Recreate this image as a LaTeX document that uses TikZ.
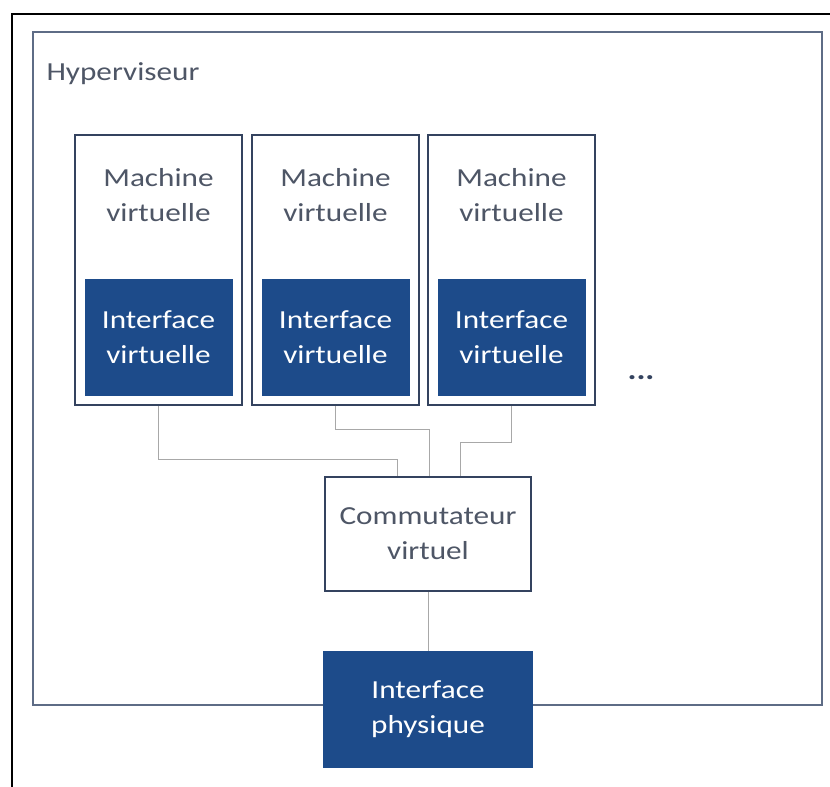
\documentclass[tikz,border=0pt]{standalone}
\usepackage{fontspec}
\setmainfont[FakeStretch=1.2]{Carlito}
\definecolor{fillblue}{HTML}{1D4B8A}
\definecolor{boxline}{HTML}{34435F}
\definecolor{hypline}{HTML}{5E6C86}
\definecolor{txtgray}{HTML}{4E5666}
\definecolor{wireg}{HTML}{A8A8A8}
\begin{document}
\begin{tikzpicture}[x=1pt,y=-1pt,
  vmbox/.style={draw=boxline,line width=2pt,fill=white,minimum width=167pt,minimum height=270pt,inner sep=0pt},
  ifbox/.style={fill=fillblue,minimum width=148pt,minimum height=117pt,inner sep=0pt,text=white,align=center,font=\fontsize{26}{35}\selectfont},
  lbl/.style={text=txtgray,align=center,font=\fontsize{26}{35}\selectfont},
  swbox/.style={draw=boxline,line width=2pt,fill=white,minimum width=206pt,minimum height=114pt,inner sep=0pt,text=txtgray,align=center,font=\fontsize{26}{35}\selectfont},
  wire/.style={draw=wireg,line width=1pt}]
\useasboundingbox (0,0) rectangle (830,787);
\fill[white] (0,0) rectangle (830,787);
\draw[black,line width=2.2pt] (12,787) -- (12,14) -- (830,14);
\node[draw=hypline,line width=2.8pt,minimum width=789pt,minimum height=673pt,inner sep=0pt] (hyp) at (427.5,368.5) {};
\node[lbl,anchor=west] (hyplbl) at (43,74) {Hyperviseur};
% virtual machines
\foreach \i/\x in {1/158.5,2/335.5,3/511.5}{
  \node[vmbox] (vm\i) at (\x,270) {};
  \node[lbl] (vml\i) at (\x,195) {Machine\\virtuelle};
  \node[ifbox] (if\i) at (\x,337.5) {Interface\\virtuelle};
}
\node[text=boxline,font=\fontsize{28}{28}\selectfont\bfseries] (dots) at (641,378) {...};
% switch
\node[swbox] (sw) at (428,534) {Commutateur\\virtuel};
% physical interface
\node[ifbox,minimum width=210pt] (phys) at (428,709.5) {Interface\\physique};
% connectors
\draw[wire] (vm1.south) -- ++(0,53) -| ([xshift=-31pt]sw.north);
\draw[wire] (vm2.south) -- ++(0,23) -| ([xshift=1pt]sw.north);
\draw[wire] (vm3.south) -- ++(0,36) -| ([xshift=32pt]sw.north);
\draw[wire] (sw.south) -- (phys.north);
\end{tikzpicture}
\end{document}
